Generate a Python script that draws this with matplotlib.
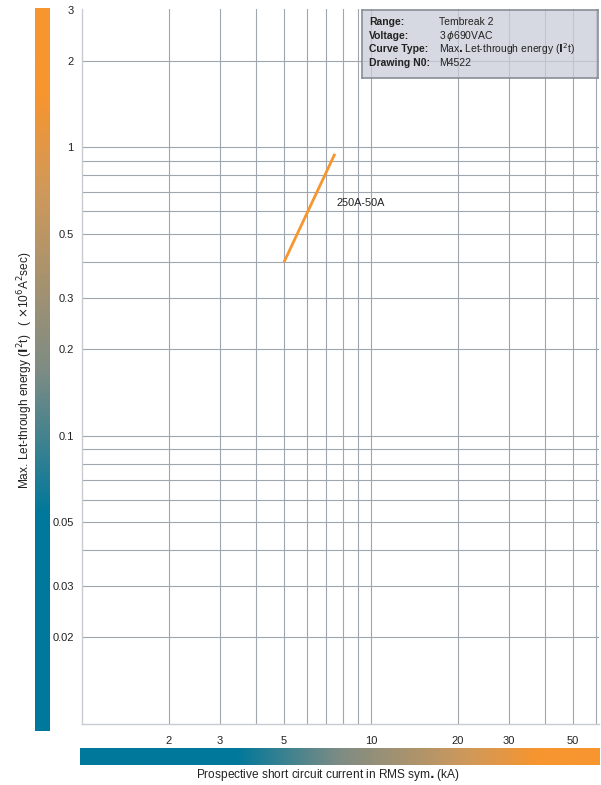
#imports
import numpy as np
import matplotlib.pyplot as plt
from matplotlib.colors import LinearSegmentedColormap
from matplotlib.ticker import FixedLocator, NullLocator

plt.rcParams['font.family'] = ['Liberation Sans', 'DejaVu Sans']

#data
curve_label = '250A-50A'
current_kA = [5.0, 7.5]
energy = [0.4, 0.95]

xticks = [2, 3, 5, 10, 20, 30, 50]
xgrid = [2, 3, 4, 5, 6, 7, 8, 9, 10, 20, 30, 40, 50, 60]
yticks = [0.02, 0.03, 0.05, 0.1, 0.2, 0.3, 0.5, 1, 2, 3]
ygrid = [0.02, 0.03, 0.04, 0.05, 0.06, 0.07, 0.08, 0.09,
         0.1, 0.2, 0.3, 0.4, 0.5, 0.6, 0.7, 0.8, 0.9, 1, 2]

info_keys = ['Range:', 'Voltage:', 'Curve Type:', 'Drawing N0:']
info_vals = ['Tembreak 2', r'3$\,\phi$690VAC',
             r'Max$\mathbf{.}$Let-through energy ($\mathbf{I}^2$t)', 'M4522']

#colours
orange = '#F7952F'
teal = '#00789B'
gridc = '#9FA6AF'

#figure
fig = plt.figure(figsize=(6.01, 7.85), dpi=100)
ax = fig.add_axes([82/601, 1-724/785, 517/601, 715/785])
ax.set_xscale('log'); ax.set_yscale('log')
ax.set_xlim(1, 61.5); ax.set_ylim(0.01, 3.02)

for v in xgrid:
    ax.axvline(v, color=gridc, lw=0.8, zorder=1)
for v in ygrid:
    ax.axhline(v, color=gridc, lw=0.8, zorder=1)

ax.plot(current_kA, energy, color=orange, lw=2, solid_capstyle='butt', zorder=3)
ax.text(7.6, 0.64, curve_label, fontsize=7.8, va='center', ha='left', color='#222222')

ax.xaxis.set_major_locator(FixedLocator(xticks))
ax.xaxis.set_minor_locator(NullLocator())
ax.set_xticklabels([str(v) for v in xticks])
ax.yaxis.set_major_locator(FixedLocator(yticks))
ax.yaxis.set_minor_locator(NullLocator())
ax.set_yticklabels([f'{v:g}' for v in yticks])
ax.tick_params(length=0, labelsize=8, colors='#222222')
ax.tick_params(axis='x', pad=9)
ax.tick_params(axis='y', pad=6)
for s in ['top', 'right']:
    ax.spines[s].set_visible(False)
for s in ['left', 'bottom']:
    ax.spines[s].set_color('#C8CCD2')
    ax.spines[s].set_linewidth(1.0)

#info box
bx = fig.add_axes([362/601, 1-78/785, 236/601, 68/785])
bx.set_xlim(0, 1); bx.set_ylim(0, 1)
bx.patch.set_facecolor('#C9CDD8'); bx.patch.set_alpha(0.75)
bx.set_xticks([]); bx.set_yticks([])
for s in bx.spines.values():
    s.set_color('#8A8E96'); s.set_linewidth(1.2)
for i, (k, v) in enumerate(zip(info_keys, info_vals)):
    yy = 0.82 - i * 0.2
    bx.text(0.03, yy, k, fontsize=7.5, fontweight='bold', va='center', color='#222222')
    bx.text(0.325, yy, v, fontsize=7.5, va='center', color='#222222')

#gradient bars
cmap = LinearSegmentedColormap.from_list('bar', [(0, teal), (0.3, teal), (0.5, '#7E8C84'),
                                                 (0.75, '#D0995A'), (0.88, orange), (1, orange)])
grad = np.linspace(0, 1, 256)
lb = fig.add_axes([35/601, 1-731/785, 15/601, 723/785])
lb.imshow(grad[:, None], aspect='auto', cmap=cmap, origin='lower')
lb.axis('off')
bb = fig.add_axes([80/601, 1-765/785, 520/601, 17/785])
bb.imshow(grad[None, :], aspect='auto', cmap=cmap, origin='lower')
bb.axis('off')

#labels
fig.text(196/601, 1-775/785, 'Prospective short circuit current in RMS sym$\\mathbf{.}$(kA)',
         fontsize=8.6, va='center', ha='left', color='#222222')
fig.text(25/601, 1-370/785,
         r'Max. Let-through energy ($\mathbf{I}^2$t)   ( $\times$10$^6$A$^2$sec)',
         fontsize=8.6, rotation=90, va='center', ha='center', color='#222222')

fig.savefig('out.png', dpi=100)
